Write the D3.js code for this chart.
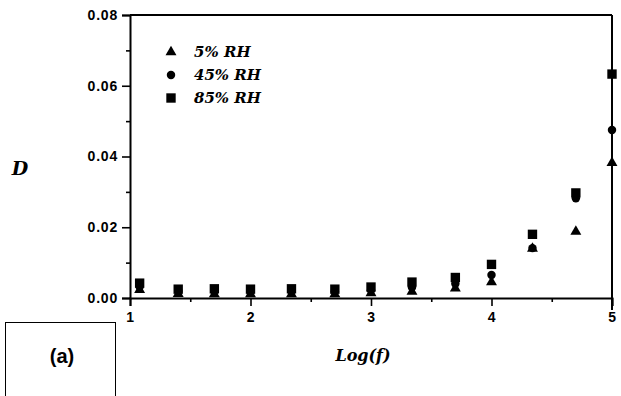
<!DOCTYPE html>
<html>
<head>
<meta charset="utf-8">
<script src="https://cdn.jsdelivr.net/npm/d3@7"></script>
<style>
  html, body { margin: 0; padding: 0; background: #fff; }
  svg { display: block; }
  .tick text { font-family: "Liberation Sans", Arial, sans-serif; font-weight: bold; font-size: 14px; letter-spacing: 0.8px; fill: #000; }
  .serif { font-family: "DejaVu Serif", "Liberation Serif", serif; font-weight: bold; font-style: italic; fill: #000; }
</style>
</head>
<body>
<svg id="chart" width="621" height="396"></svg>
<script>
// log10 of measurement frequency (Hz): 12, 25, 50, 100, 220, 500, 1k ... 100k
const logF = [1.08, 1.40, 1.70, 2.00, 2.34, 2.70, 3.00, 3.34, 3.70, 4.00, 4.34, 4.70, 5.00];

// dissipation factor D at each relative humidity
const rh5  = [0.0023, 0.0012, 0.0011, 0.0011, 0.0011, 0.0011, 0.0014, 0.0018, 0.0027, 0.0045, 0.0140, 0.0188, 0.0382];
const rh45 = [0.0032, 0.0020, 0.0019, 0.0019, 0.0019, 0.0019, 0.0022, 0.0030, 0.0040, 0.0065, 0.0141, 0.0282, 0.0475];
const rh85 = [0.0042, 0.0025, 0.0026, 0.0025, 0.0026, 0.0025, 0.0031, 0.0045, 0.0058, 0.0095, 0.0180, 0.0297, 0.0633];

const seriesNames = ["5% RH", "45% RH", "85% RH"];
const xTicks = [1, 2, 3, 4, 5];
const xMinor = [1.5, 2.5, 3.5, 4.5];
const yTicks = [0, 0.02, 0.04, 0.06, 0.08];
const yMinor = [0.01, 0.03, 0.05, 0.07];

const svg = d3.select("#chart");

const x = d3.scaleLinear().domain([1, 5]).range([130, 612]);
const y = d3.scaleLinear().domain([0, 0.08]).range([298, 15]);

const g = svg.append("g");

// left axis with major and minor ticks
g.append("g").attr("transform", `translate(${x(1)},0)`)
  .call(d3.axisLeft(y).tickValues(yTicks).tickFormat(d3.format(".2f")).tickSize(8).tickPadding(4));
g.append("g").attr("transform", `translate(${x(1)},0)`)
  .call(d3.axisLeft(y).tickValues(yMinor).tickFormat("").tickSize(4))
  .select(".domain").remove();

// bottom axis with major and minor ticks
g.append("g").attr("transform", `translate(0,${y(0)})`)
  .call(d3.axisBottom(x).tickValues(xTicks).tickFormat(d3.format("d")).tickSize(8).tickPadding(6));
g.append("g").attr("transform", `translate(0,${y(0)})`)
  .call(d3.axisBottom(x).tickValues(xMinor).tickFormat("").tickSize(4))
  .select(".domain").remove();

g.selectAll(".domain").attr("stroke", "#000").attr("stroke-width", 2);
g.selectAll(".tick line").attr("stroke", "#000").attr("stroke-width", 1.6);

// top and right frame
g.append("line").attr("x1", x(1)).attr("x2", x(5)).attr("y1", y(0.08)).attr("y2", y(0.08))
  .attr("stroke", "#000").attr("stroke-width", 2);
g.append("line").attr("x1", x(5)).attr("x2", x(5)).attr("y1", y(0.08)).attr("y2", y(0) + 12)
  .attr("stroke", "#000").attr("stroke-width", 2);

// markers
const shapes = [d3.symbolTriangle, d3.symbolCircle, d3.symbolSquare];
const sizes = [52, 56, 88];
const data = [rh5, rh45, rh85];

data.forEach((vals, i) => {
  g.append("g").selectAll("path")
    .data(vals.map((v, j) => ({ lf: logF[j], d: v })))
    .join("path")
    .attr("d", d3.symbol().type(shapes[i]).size(sizes[i]))
    .attr("transform", p => `translate(${x(p.lf)},${y(p.d)})`)
    .attr("fill", "#000");
});

// legend
const legend = g.append("g");
seriesNames.forEach((name, i) => {
  const ly = 52 + i * 23;
  legend.append("path")
    .attr("d", d3.symbol().type(shapes[i]).size(sizes[i])())
    .attr("transform", `translate(171,${ly})`)
    .attr("fill", "#000");
  legend.append("text").attr("class", "serif")
    .attr("x", 194).attr("y", ly + 5)
    .attr("font-size", 15)
    .text(name);
});

// axis titles
svg.append("text").attr("class", "serif")
  .attr("x", 20).attr("y", 175).attr("text-anchor", "middle")
  .attr("font-size", 19).text("D");
svg.append("text").attr("class", "serif")
  .attr("x", 363).attr("y", 361).attr("text-anchor", "middle")
  .attr("font-size", 16).text("Log(f)");

// panel tag
svg.append("rect").attr("x", 5.5).attr("y", 322.5).attr("width", 110).attr("height", 80)
  .attr("fill", "none").attr("stroke", "#000").attr("stroke-width", 1);
svg.append("text")
  .attr("x", 62).attr("y", 363).attr("text-anchor", "middle")
  .attr("font-family", "Liberation Sans, Arial, sans-serif").attr("font-weight", "bold")
  .attr("font-size", 20).text("(a)");
</script>
</body>
</html>
